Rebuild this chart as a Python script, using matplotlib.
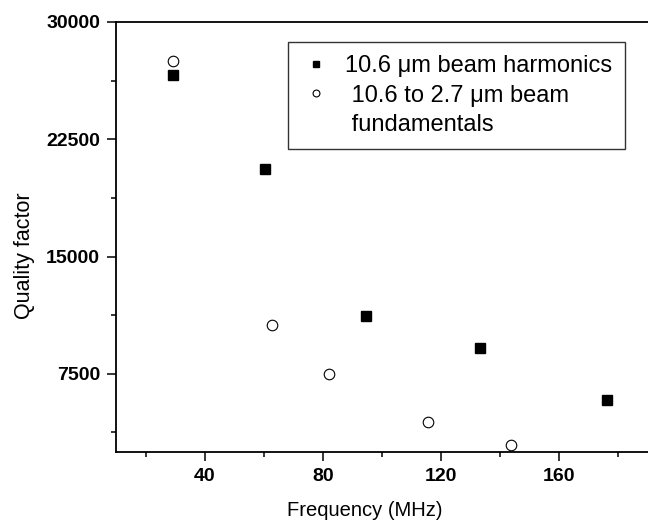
import matplotlib
matplotlib.use("Agg")
import matplotlib.pyplot as plt
from matplotlib.ticker import MultipleLocator
from matplotlib.lines import Line2D

plt.rcParams['font.family'] = ['Liberation Sans', 'DejaVu Sans']

# Data
harm_freq = [29.3, 60.3, 94.6, 133.2, 176.2]
harm_q = [26600, 20600, 11180, 9130, 5800]
fund_freq = [29.2, 62.9, 82.1, 115.6, 143.7]
fund_q = [27500, 10630, 7510, 4410, 2960]

labels = ["10.6 \u03bcm beam harmonics", " 10.6 to 2.7 \u03bcm beam", " fundamentals"]
xticks = [40, 80, 120, 160]
yticks = [7500, 15000, 22500, 30000]

fig = plt.figure(figsize=(6.48, 5.23), dpi=100)
ax = fig.add_axes([116/648, 1-452/523, 1-116/648, (452-22)/523])

h1, = ax.plot(harm_freq, harm_q, linestyle='none', marker='s', markersize=6.5,
              color='black')
h2, = ax.plot(fund_freq, fund_q, linestyle='none', marker='o', markersize=7.6,
              markerfacecolor='white', markeredgecolor='black', markeredgewidth=0.8)

ax.set_xlim(10, 190)
ax.set_ylim(2500, 30000)
ax.set_xticks(xticks)
ax.set_yticks(yticks)
ax.xaxis.set_minor_locator(MultipleLocator(20))
ax.yaxis.set_minor_locator(MultipleLocator(3750))

for s in ['left', 'bottom', 'top']:
    ax.spines[s].set_linewidth(1.3)
ax.spines['right'].set_visible(False)

ax.tick_params(which='major', direction='out', length=6.5, width=1.1,
               labelsize=14, pad=5)
ax.tick_params(which='minor', direction='out', length=3.5, width=1.1)
for lab in ax.get_xticklabels() + ax.get_yticklabels():
    lab.set_fontweight('bold')

ax.set_xlabel("Frequency (MHz)", fontsize=14.5)
ax.xaxis.set_label_coords((365-116)/532, -0.115)
ax.set_ylabel("Quality factor", fontsize=15.5)
ax.yaxis.set_label_coords(-(116-35)/532, (452-256)/430)

blank = Line2D([], [], linestyle='none', marker=None)
leg = ax.legend([h1, h2, blank], labels,
                loc='upper left', bbox_to_anchor=((288-116)/532, 1-(42-22)/430),
                frameon=True, fancybox=False, fontsize=17, markerscale=0.65,
                handlelength=1.3, handletextpad=0.55, borderpad=0.55,
                labelspacing=0.32, borderaxespad=0)
leg.get_frame().set_edgecolor('black')
leg.get_frame().set_linewidth(1.0)

fig.savefig("out.png", dpi=100)
